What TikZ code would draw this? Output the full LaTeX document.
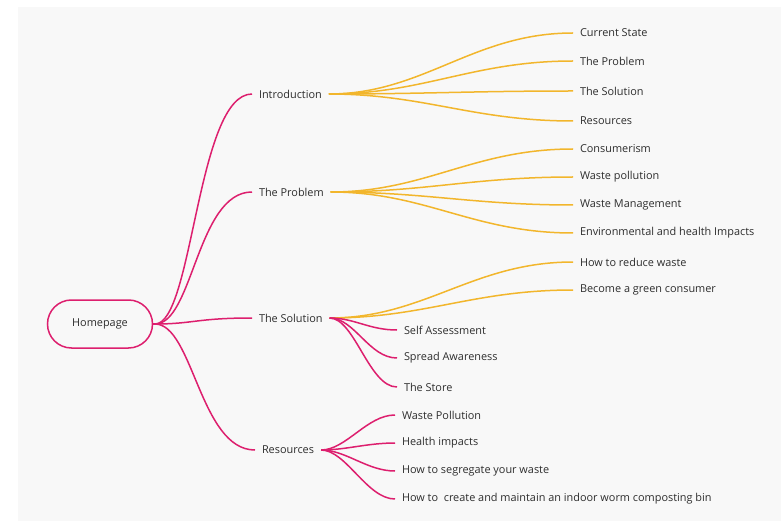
\documentclass[tikz,border=0pt]{standalone}
\usepackage{fontspec}
\setmainfont{Open Sans}
\definecolor{pinkline}{HTML}{DD1F6E}
\definecolor{goldline}{HTML}{F2B62C}
\definecolor{bgpanel}{HTML}{F8F8F8}
\definecolor{txt}{HTML}{2E2E2E}
\begin{document}
\begin{tikzpicture}[x=1pt,y=-1pt,
  lbl/.style={font=\fontsize{10.9}{12}\selectfont, text=txt, anchor=west,
    inner xsep=7pt, inner ysep=2pt, outer sep=0pt},
  pinkbr/.style={draw=pinkline, line width=1.5pt},
  goldbr/.style={draw=goldline, line width=1.5pt},
  rootbox/.style={draw=pinkline, line width=1.5pt, rounded corners=24pt,
    minimum width=105pt, minimum height=48pt, font=\fontsize{10.9}{12}\selectfont,
    text=txt, outer sep=0pt}]
% canvas
\useasboundingbox (0,0) rectangle (781,521);
\fill[white] (0,0) rectangle (781,521);
\fill[bgpanel] (18,7) rectangle (781,521);

% root
\node[rootbox] (hp) at (100,324) {Homepage};
\coordinate (hpo) at (155,324);
\draw[pinkline, line width=1.5pt] (hp.east) -- (hpo);

% first level
\node[lbl] (intro) at (252,94) {Introduction};
\node[lbl] (prob) at (252,192) {The Problem};
\node[lbl] (sol) at (252,318) {The Solution};
\node[lbl] (res) at (255,450) {Resources};

\foreach \n in {intro,prob,sol,res}
  \draw[pinkbr] (hpo) .. controls +(38,0) and +(-55,0) .. (\n.west);

% Introduction
\node[lbl] (i1) at (573,33) {Current State};
\node[lbl] (i2) at (573,61) {The Problem};
\node[lbl] (i3) at (573,91) {The Solution};
\node[lbl] (i4) at (573,121) {Resources};
\foreach \n in {i1,i2,i3,i4}
  \draw[goldbr] (intro.east) .. controls +(95,0) and +(-100,0) .. (\n.west);

% The Problem
\node[lbl] (p1) at (573,149) {Consumerism};
\node[lbl] (p2) at (573,177) {Waste pollution};
\node[lbl] (p3) at (573,205) {Waste Management};
\node[lbl] (p4) at (573,233) {Environmental and health Impacts};
\foreach \n in {p1,p2,p3,p4}
  \draw[goldbr] (prob.east) .. controls +(95,0) and +(-100,0) .. (\n.west);

% The Solution
\node[lbl] (s1) at (573,262) {How to reduce waste};
\node[lbl] (s2) at (573,290) {Become a green consumer};
\node[lbl] (s3) at (397,330) {Self Assessment};
\node[lbl] (s4) at (397,358) {Spread Awareness};
\node[lbl] (s5) at (397,387) {The Store};
\foreach \n in {s1,s2}
  \draw[goldbr] (sol.east) .. controls +(95,0) and +(-100,0) .. (\n.west);
\foreach \n in {s3,s4,s5}
  \draw[pinkbr] (sol.east) .. controls +(25,0) and +(-28,0) .. (\n.west);

% Resources
\node[lbl] (r1) at (395,415) {Waste Pollution};
\node[lbl] (r2) at (395,443) {Health impacts};
\node[lbl] (r3) at (395,471) {How to segregate your waste};
\node[lbl] (r4) at (395,499) {How to\ \ create and maintain an indoor worm composting bin};
\foreach \n in {r1,r2,r3,r4}
  \draw[pinkbr] (res.east) .. controls +(25,0) and +(-28,0) .. (\n.west);
\end{tikzpicture}
\end{document}
